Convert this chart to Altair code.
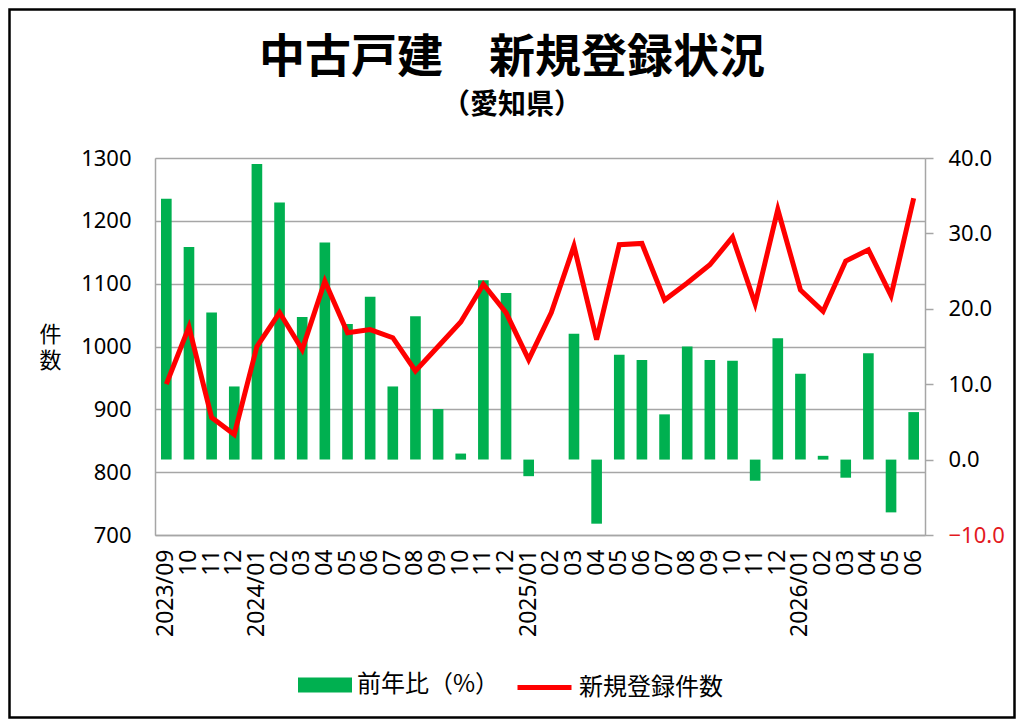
import json
import altair as alt
import pandas as pd

months = [
    "2023/09", "2023/10", "2023/11", "2023/12",
    "2024/01", "2024/02", "2024/03", "2024/04", "2024/05", "2024/06",
    "2024/07", "2024/08", "2024/09", "2024/10", "2024/11", "2024/12",
    "2025/01", "2025/02", "2025/03", "2025/04", "2025/05", "2025/06",
    "2025/07", "2025/08", "2025/09", "2025/10", "2025/11", "2025/12",
    "2026/01", "2026/02", "2026/03", "2026/04", "2026/05", "2026/06",
]
tick_labels = [
    "2023/09", "10", "11", "12",
    "2024/01", "02", "03", "04", "05", "06", "07", "08", "09", "10", "11", "12",
    "2025/01", "02", "03", "04", "05", "06", "07", "08", "09", "10", "11", "12",
    "2026/01", "02", "03", "04", "05", "06",
]
yoy_pct = [
    34.6, 28.2, 19.5, 9.7,
    39.2, 34.1, 18.9, 28.8, 18.0, 21.6, 9.7, 19.0, 6.7, 0.8, 23.8, 22.1,
    -2.2, 0.0, 16.7, -8.5, 13.9, 13.2, 6.0, 15.0, 13.2, 13.1, -2.8, 16.1,
    11.4, 0.5, -2.4, 14.1, -7.0, 6.3,
]
new_listings = [
    940, 1031, 887, 860,
    1000, 1054, 995, 1104, 1022, 1027, 1014, 961, 1000, 1039, 1099, 1054,
    979, 1054, 1160, 1011, 1162, 1164, 1074, 1101, 1130, 1174, 1068, 1218,
    1090, 1056, 1136, 1154, 1081, 1236,
]
left_ticks = [700, 800, 900, 1000, 1100, 1200, 1300]
right_ticks = [-10, 0, 10, 20, 30, 40]

bar_name = "前年比（%）"
line_name = "新規登録件数"

df = pd.DataFrame({
    "month": months,
    "yoy": yoy_pct,
    "count": new_listings,
    "bar_series": [bar_name] * len(months),
    "line_series": [line_name] * len(months),
})

W, H = 770, 377
PAD = {"left": 147, "top": 150, "right": 91, "bottom": 184}

GRID = "#A6A6A6"
NUM_FONT = "Noto Sans"
CJK_FONT = "Noto Sans CJK JP"

label_expr = f"{json.dumps(tick_labels)}[indexof({json.dumps(months)}, datum.value)]"

x_enc = alt.X(
    "month:N",
    sort=months,
    scale=alt.Scale(paddingInner=0.53, paddingOuter=0.265),
    axis=alt.Axis(
        title=None,
        labelAngle=270,
        labelExpr=label_expr,
        labelFont=NUM_FONT,
        labelFontSize=23,
        labelColor="black",
        labelPadding=14,
        ticks=False,
        domainColor=GRID,
        domainWidth=1.5,
        grid=False,
    ),
)

bars = alt.Chart(df).mark_bar(strokeWidth=0).encode(
    x=x_enc,
    y=alt.Y(
        "yoy:Q",
        scale=alt.Scale(domain=[-10, 40], nice=False, zero=False),
        axis=alt.Axis(
            orient="right",
            title=None,
            values=right_ticks,
            format=".1f",
            labelFont=NUM_FONT,
            labelFontSize=22,
            labelColor=alt.condition("datum.value < 0", alt.value("#E3191E"), alt.value("black")),
            labelPadding=15,
            tickSize=8,
            tickColor=GRID,
            tickWidth=1.5,
            domainColor=GRID,
            domainWidth=1.5,
            grid=False,
        ),
    ),
    fill=alt.Fill(
        "bar_series:N",
        scale=alt.Scale(domain=[bar_name], range=["#00B050"]),
        legend=alt.Legend(
            title=None,
            orient="none",
            legendX=143,
            legendY=500,
            symbolType="M-1,-0.28H1V0.28H-1Z",
            symbolSize=2916,
            symbolStrokeWidth=0,
            labelFont=CJK_FONT,
            labelFontSize=24,
            labelColor="black",
            labelOffset=5,
            padding=0,
        ),
    ),
)

line = alt.Chart(df).mark_line(strokeWidth=5).encode(
    x=alt.X("month:N", sort=months),
    y=alt.Y(
        "count:Q",
        scale=alt.Scale(domain=[700, 1300], nice=False, zero=False),
        axis=alt.Axis(
            orient="left",
            title=["件", "数"],
            titleAngle=0,
            titleFont=CJK_FONT,
            titleFontSize=22,
            titleFontWeight="normal",
            titleColor="black",
            titleX=-105,
            titleY=176,
            titleAlign="center",
            titleBaseline="middle",
            titleLineHeight=26,
            values=left_ticks,
            format="d",
            labelFont=NUM_FONT,
            labelFontSize=22,
            labelColor="black",
            labelPadding=24,
            ticks=False,
            domainColor=GRID,
            domainWidth=1.5,
            grid=True,
            gridColor=GRID,
            gridWidth=1.5,
        ),
    ),
    stroke=alt.Stroke(
        "line_series:N",
        scale=alt.Scale(domain=[line_name], range=["#FF0000"]),
        legend=alt.Legend(
            title=None,
            orient="none",
            legendX=360,
            legendY=500,
            symbolType="stroke",
            symbolSize=2916,
            symbolStrokeWidth=5,
            labelFont=CJK_FONT,
            labelFontSize=24,
            labelColor="black",
            labelOffset=5,
            padding=0,
        ),
    ),
)

frame = alt.Chart(pd.DataFrame({"k": [0]})).mark_rect(
    filled=False, stroke="black", strokeWidth=2.5
).encode(
    x=alt.value(-PAD["left"] + 1.5),
    x2=alt.value(W + PAD["right"] - 1.5),
    y=alt.value(-PAD["top"] + 1.5),
    y2=alt.value(H + PAD["bottom"] - 1.5),
)

chart = (
    alt.layer(bars, line, frame)
    .resolve_scale(y="independent", fill="independent", stroke="independent")
    .properties(
        width=W,
        height=H,
        padding=PAD,
        autosize="none",
        title=alt.TitleParams(
            text="中古戸建　新規登録状況",
            subtitle="（愛知県）",
            anchor="middle",
            frame="group",
            font=CJK_FONT,
            fontSize=46,
            fontWeight="bold",
            color="black",
            subtitleFont=CJK_FONT,
            subtitleFontSize=28,
            subtitleFontWeight="bold",
            subtitleColor="black",
            subtitlePadding=10,
            offset=36,
            dx=-28,
            dy=149,
        ),
    )
    .configure_view(stroke=None)
    .configure(background="white")
)

chart.save("out.html", embed_options={"renderer": "svg", "actions": False})
